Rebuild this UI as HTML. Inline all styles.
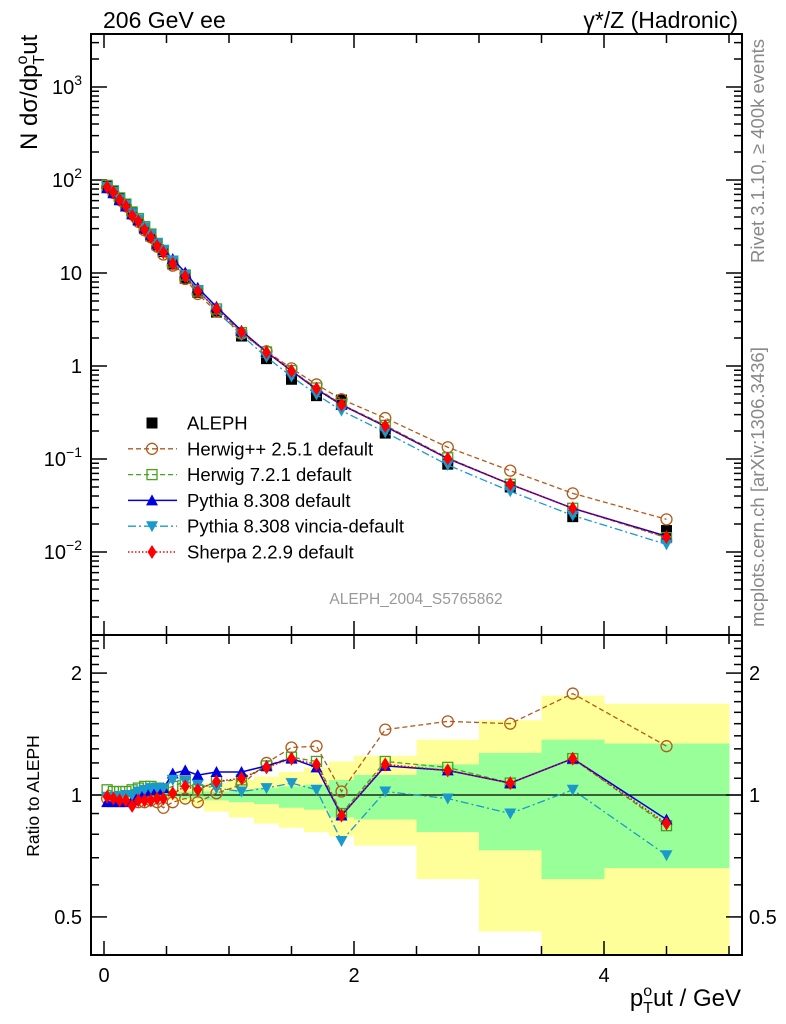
<!DOCTYPE html>
<html><head><meta charset="utf-8"><style>
html,body{margin:0;padding:0;background:#fff}
svg{display:block;font-family:"Liberation Sans",sans-serif}
</style></head><body>
<svg id="c" width="786" height="1024" viewBox="0 0 786 1024" xmlns="http://www.w3.org/2000/svg">
<defs>
<clipPath id="clipM"><rect x="91" y="34" width="651" height="601"/></clipPath>
<clipPath id="clipR"><rect x="91" y="635" width="651" height="320"/></clipPath>
</defs>
<g id="bands" clip-path="url(#clipR)"></g>
<g id="axes"></g>
<g id="series"></g>
<rect x="91" y="34" width="651" height="601" fill="none" stroke="#000" stroke-width="2"/>
<rect x="91" y="635" width="651" height="320" fill="none" stroke="#000" stroke-width="2"/>
<text x="103" y="28" font-size="23">206 GeV ee</text>
<text x="738" y="28" font-size="23" text-anchor="end">γ*/Z (Hadronic)</text>
<text transform="translate(764,151) rotate(-90)" font-size="18.5" fill="#888" text-anchor="middle">Rivet 3.1.10, ≥ 400k events</text>
<text transform="translate(764,487) rotate(-90)" font-size="18.5" fill="#888" text-anchor="middle">mcplots.cern.ch [arXiv:1306.3436]</text>
<text x="416" y="604" font-size="15.5" fill="#999" text-anchor="middle">ALEPH_2004_S5765862</text>
<text transform="translate(37,150) rotate(-90)" font-size="24">N dσ/dp<tspan font-size="16" dy="-10">o</tspan><tspan font-size="16" dx="-9" dy="17">T</tspan><tspan dy="-7">ut</tspan></text>
<text transform="translate(39,796) rotate(-90)" font-size="17.5" text-anchor="middle">Ratio to ALEPH</text>
<text x="741" y="1006" font-size="24" text-anchor="end">p<tspan font-size="16" dy="-10">o</tspan><tspan font-size="16" dx="-9" dy="17">T</tspan><tspan dy="-7">ut / GeV</tspan></text>
<g id="legend"></g>
</svg>
<script>
const xs=[0.025,0.075,0.125,0.175,0.225,0.275,0.325,0.375,0.425,0.475,0.55,0.65,0.75,0.9,1.1,1.3,1.5,1.7,1.9,2.25,2.75,3.25,3.75,4.5];
const binLo=[0,0.05,0.1,0.15,0.2,0.25,0.3,0.35,0.4,0.45,0.5,0.6,0.7,0.8,1.0,1.2,1.4,1.6,1.8,2.0,2.5,3.0,3.5,4.0];
const binHi=[0.05,0.1,0.15,0.2,0.25,0.3,0.35,0.4,0.45,0.5,0.6,0.7,0.8,1.0,1.2,1.4,1.6,1.8,2.0,2.5,3.0,3.5,4.0,5.0];
const aleph=[85,75,63,54,44,37,30,25,20,17,12.5,8.8,6.2,3.8,2.1,1.2,0.72,0.48,0.43,0.19,0.088,0.05,0.024,0.017];
const yelUp=[1.01,1.01,1.01,1.01,1.01,1.02,1.02,1.02,1.02,1.02,1.03,1.04,1.05,1.07,1.09,1.11,1.14,1.17,1.21,1.25,1.37,1.53,1.76,1.68];
const yelDn=[0.99,0.99,0.99,0.99,0.99,0.98,0.98,0.98,0.98,0.98,0.97,0.96,0.94,0.91,0.88,0.85,0.83,0.81,0.79,0.75,0.62,0.46,0.3,0.3];
const grnUp=[1.005,1.005,1.005,1.005,1.005,1.01,1.01,1.01,1.01,1.01,1.015,1.02,1.02,1.02,1.03,1.04,1.05,1.06,1.09,1.12,1.19,1.27,1.37,1.34];
const grnDn=[0.995,0.995,0.995,0.995,0.995,0.99,0.99,0.99,0.99,0.99,0.985,0.98,0.98,0.97,0.96,0.95,0.93,0.92,0.88,0.87,0.81,0.73,0.62,0.66];
const rHerwigpp=[0.98,0.97,0.97,0.97,0.97,0.96,0.96,0.97,0.96,0.93,0.96,0.98,0.96,1.01,1.06,1.20,1.31,1.32,1.02,1.45,1.52,1.50,1.78,1.32];
const rHerwig7=[1.03,1.02,1.02,1.02,1.03,1.04,1.05,1.05,1.04,1.03,1.05,1.08,1.03,1.08,1.09,1.18,1.24,1.21,0.90,1.21,1.17,1.07,1.23,0.84];
const rPythia=[0.96,0.96,0.96,0.96,0.97,1.0,1.02,1.03,1.03,1.04,1.13,1.15,1.12,1.14,1.14,1.18,1.23,1.17,0.89,1.18,1.15,1.07,1.23,0.87];
const rVincia=[0.99,0.99,0.99,1.0,1.0,1.02,1.03,1.04,1.04,1.04,1.09,1.08,1.06,1.04,1.02,1.04,1.07,1.03,0.77,1.02,0.98,0.90,1.03,0.71];
const rSherpa=[0.99,0.98,0.97,0.97,0.94,0.97,0.97,0.97,0.98,0.98,1.01,1.05,1.03,1.08,1.10,1.17,1.23,1.19,0.89,1.19,1.15,1.07,1.23,0.85];
const mainTicks=["10⁻²","10⁻¹","1","10","10²","10³"];
const ratioTicks=[0.5,1,2];
const xTickLabels=[0,2,4];

const NS="http://www.w3.org/2000/svg";
const X=v=>104+125*v;
const YM=v=>366-93*Math.log10(v);
const YR=v=>795-405*Math.log10(v);
function mk(tag,attrs,parent){const e=document.createElementNS(NS,tag);for(const k in attrs)e.setAttribute(k,attrs[k]);parent.appendChild(e);return e;}
const bands=document.getElementById('bands'),axes=document.getElementById('axes'),ser=document.getElementById('series'),leg=document.getElementById('legend');

for(let i=0;i<binLo.length;i++){
  let r=mk('rect',{x:X(binLo[i]),y:YR(yelUp[i]),width:X(binHi[i])-X(binLo[i])+0.5,height:YR(yelDn[i])-YR(yelUp[i]),fill:'#ffff99'},bands);
  
  
}
for(let i=0;i<binLo.length;i++){
  let r=mk('rect',{x:X(binLo[i]),y:YR(grnUp[i]),width:X(binHi[i])-X(binLo[i])+0.5,height:YR(grnDn[i])-YR(grnUp[i]),fill:'#99ff99'},bands);
  
  
}
let one=mk('line',{x1:91,x2:742,y1:YR(1),y2:YR(1),stroke:'#000','stroke-width':1.3},axes);



for(let v=0;v<=5.01;v+=0.5){
  const maj=Math.abs(v-Math.round(v/2)*2)<0.01;
  const L=maj?14:9;
  [[635,-1],[34,1],[955,-1],[635,1]].forEach(([y,d])=>{mk('line',{x1:X(v),x2:X(v),y1:y,y2:y+d*L,stroke:'#000','stroke-width':1.5},axes);});
}
xTickLabels.forEach(v=>{let t=mk('text',{x:X(v),y:982,'font-size':20,'text-anchor':'middle'},axes);t.textContent=v;
 
 });

for(let d=-3;d<=3;d++){
  for(let m=1;m<10;m++){
    const v=m*Math.pow(10,d);const y=YM(v);if(y<34||y>635)continue;
    const L=m==1?16:8;
    mk('line',{x1:91,x2:91+L,y1:y,y2:y,stroke:'#000','stroke-width':1.5},axes);
    mk('line',{x1:742,x2:742-L,y1:y,y2:y,stroke:'#000','stroke-width':1.5},axes);
  }
}
mainTicks.forEach((s,i)=>{const y=YM(Math.pow(10,i-2));
 let t=mk('text',{x:82,y:y+7,'font-size':20,'text-anchor':'end'},axes);
 if(s.indexOf('10')==0&&s.length>2){t.textContent='10';let ts=mk('tspan',{'font-size':14,dy:-9},t);ts.textContent=s.slice(2).replace('⁻','−').replace('²','2').replace('³','3').replace('¹','1');}
 else t.textContent=s;
 
 });

[0.4,0.5,0.6,0.7,0.8,0.9,1,1.1,1.2,1.3,1.4,1.5,1.6,1.7,1.8,1.9,2,2.1,2.2,2.3,2.4].forEach(v=>{
  const y=YR(v);if(y<635||y>955)return;const maj=[0.5,1,2].includes(v);const L=maj?16:8;
  mk('line',{x1:91,x2:91+L,y1:y,y2:y,stroke:'#000','stroke-width':1.5},axes);
  mk('line',{x1:742,x2:742-L,y1:y,y2:y,stroke:'#000','stroke-width':1.5},axes);
});
ratioTicks.forEach(v=>{
 let t=mk('text',{x:82,y:YR(v)+7,'font-size':20,'text-anchor':'end'},axes);t.textContent=v;
 
 
 let t2=mk('text',{x:749,y:YR(v)+7,'font-size':20},axes);t2.textContent=v;
 
 });

function marker(type,x,y,col,g){
  if(type=='sq')return mk('rect',{x:x-5.5,y:y-5.5,width:11,height:11,fill:'#000'},g);
  if(type=='circ')return mk('circle',{cx:x,cy:y,r:5.5,fill:'none',stroke:col,'stroke-width':1.3},g);
  if(type=='osq')return mk('rect',{x:x-5,y:y-5,width:10,height:10,fill:'none',stroke:col,'stroke-width':1.3},g);
  if(type=='up')return mk('polygon',{points:`${x},${y-6} ${x-6},${y+5} ${x+6},${y+5}`,fill:col},g);
  if(type=='dn')return mk('polygon',{points:`${x},${y+6} ${x-6},${y-5} ${x+6},${y-5}`,fill:col},g);
  if(type=='dia')return mk('polygon',{points:`${x},${y-7} ${x-4.5},${y} ${x},${y+7} ${x+4.5},${y}`,fill:col},g);
}
const mcs=[
 {n:'herwigpp',r:rHerwigpp,col:'#b35a1a',dash:'5,3',m:'circ',w:1.3,label:'Herwig++ 2.5.1 default'},
 {n:'herwig7',r:rHerwig7,col:'#4aa020',dash:'5,3',m:'osq',w:1.3,label:'Herwig 7.2.1 default'},
 {n:'pythia',r:rPythia,col:'#0000e0',dash:'',m:'up',w:1.5,label:'Pythia 8.308 default'},
 {n:'vincia',r:rVincia,col:'#1a9acc',dash:'8,3,2,3',m:'dn',w:1.3,label:'Pythia 8.308 vincia-default'},
 {n:'sherpa',r:rSherpa,col:'#ff0000',dash:'1.5,2',m:'dia',w:1.5,label:'Sherpa 2.2.9 default'}
];
const gA=mk('g',{'clip-path':'url(#clipM)'},ser);


aleph.forEach((v,i)=>{let e=marker('sq',X(xs[i]),YM(v),'#000',gA);
 
 });
mcs.forEach(s=>{
  const gm=mk('g',{'clip-path':'url(#clipM)'},ser);
  
  
  const gr=mk('g',{'clip-path':'url(#clipR)'},ser);
  
  
  const pm=xs.map((x,i)=>X(x)+','+YM(aleph[i]*s.r[i])).join(' ');
  const pr=xs.map((x,i)=>X(x)+','+YR(s.r[i])).join(' ');
  mk('polyline',{points:pm,fill:'none',stroke:s.col,'stroke-width':s.w,'stroke-dasharray':s.dash},gm);
  mk('polyline',{points:pr,fill:'none',stroke:s.col,'stroke-width':s.w,'stroke-dasharray':s.dash},gr);
  xs.forEach((x,i)=>{
    let a=marker(s.m,X(x),YM(aleph[i]*s.r[i]),s.col,gm);
    
    
    let b=marker(s.m,X(x),YR(s.r[i]),s.col,gr);
    
    
  });
});
const rows=[{label:'ALEPH',m:'sq',col:'#000',dash:null}].concat(mcs);
rows.forEach((s,i)=>{
  const y=423+25.8*i;
  const g=mk('g',{},leg);
  
  
  if(s.dash!==null&&s.dash!==undefined)mk('line',{x1:128,x2:177,y1:y,y2:y,stroke:s.col,'stroke-width':s.w,'stroke-dasharray':s.dash},g);
  marker(s.m,152,y,s.col,g);
  const t=mk('text',{x:187,y:y+6.5,'font-size':18.5},g);t.textContent=s.label;
});
</script>
</body></html>
